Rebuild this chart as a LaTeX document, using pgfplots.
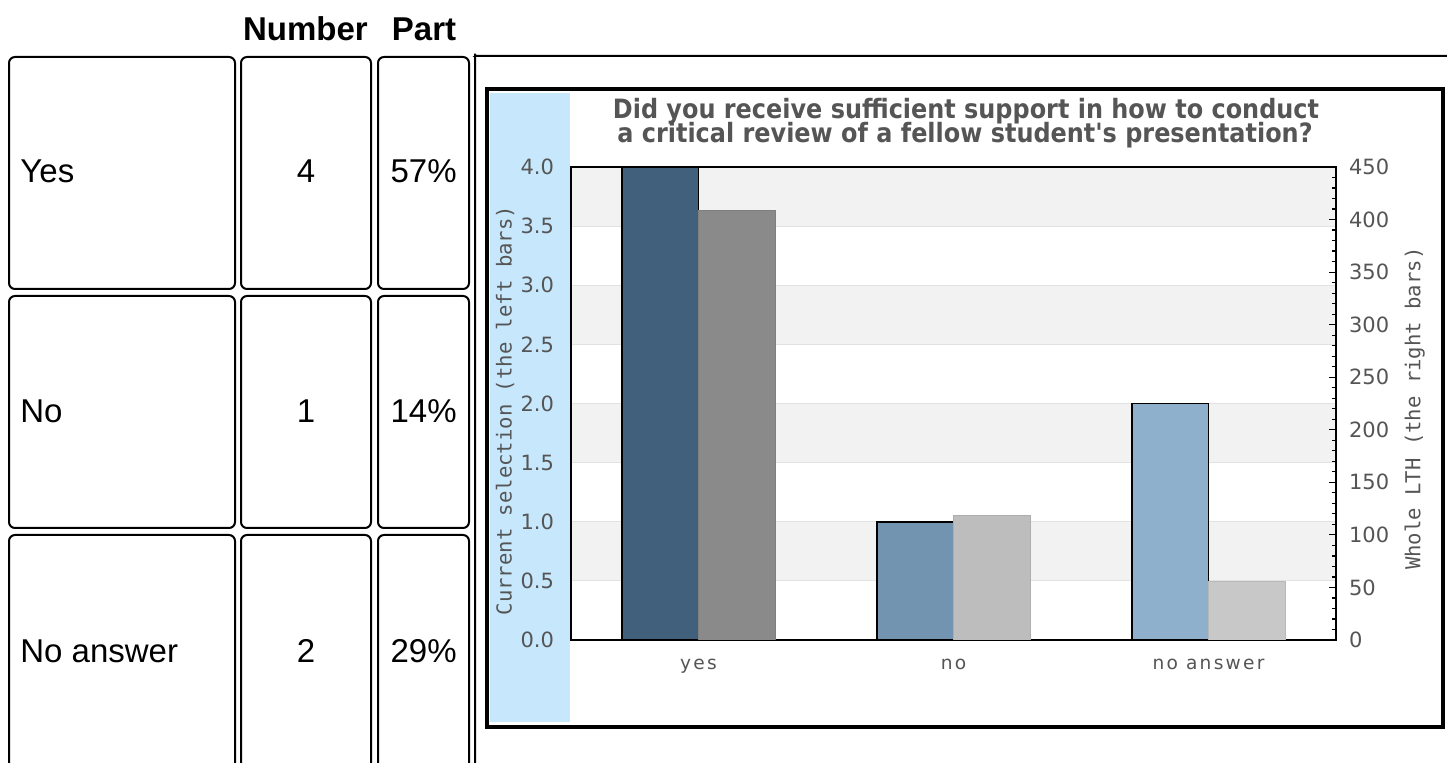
\documentclass[border=0pt]{standalone}
\usepackage{pgfplots}
\pgfplotsset{compat=1.18}
\usepackage{fontspec}
\setmainfont{Liberation Sans}
\newfontfamily\dvs{DejaVu Sans}
\newfontfamily\dvsw[LetterSpace=12]{DejaVu Sans}
\newfontfamily\dvm{DejaVu Sans Mono}
\newfontfamily\ttl[FakeStretch=0.9]{DejaVu Sans}

\definecolor{stripblue}{HTML}{C6E7FC}
\definecolor{band}{HTML}{F2F2F2}
\definecolor{gridc}{HTML}{E2E2E2}
\definecolor{txt}{HTML}{555555}
\definecolor{yesL}{HTML}{41607C}
\definecolor{noL}{HTML}{7294B0}
\definecolor{naL}{HTML}{8FB0CC}
\definecolor{yesR}{HTML}{8A8A8A}
\definecolor{noR}{HTML}{BDBDBD}
\definecolor{naR}{HTML}{C8C8C8}

\begin{document}
\begin{tikzpicture}
% page frame in pixel units of the reference (0.5pt each, y downwards)
\begin{scope}[x=0.5pt,y=-0.5pt]
\useasboundingbox (0,0) rectangle (1447,763);

% table on the left
\begin{scope}[line width=1pt, rounded corners=3pt]
\foreach \ya/\yb in {57/289, 296/528, 535/790}{
  \draw (9,\ya) rectangle (235,\yb);
  \draw (241,\ya) rectangle (371,\yb);
  \draw (378,\ya) rectangle (469,\yb);
}
\draw (1460,56) -- (481,56) arc (90:180:6) -- (475,790);
\end{scope}

\begin{scope}[font=\fontsize{16.5}{20}\selectfont, inner sep=0pt]
\node[anchor=base, font=\bfseries\fontsize{16.5}{20}\selectfont] at (305.5,41) {Number};
\node[anchor=base, font=\bfseries\fontsize{16.5}{20}\selectfont] at (424,41) {Part};
\node[anchor=base west] at (20,183) {Yes};
\node[anchor=base west] at (20,423) {No};
\node[anchor=base west] at (20,663) {No answer};
\node[anchor=base] at (306,183) {4};
\node[anchor=base] at (306,423) {1};
\node[anchor=base] at (306,663) {2};
\node[anchor=base east] at (457,183) {57\%};
\node[anchor=base east] at (457,423) {14\%};
\node[anchor=base east] at (457,663) {29\%};
\end{scope}

% chart frame
\fill[white] (487,89) rectangle (1443,727);
\fill[stripblue] (490,93) rectangle (570,722);
\draw[line width=2pt] (487,89) rectangle (1443,727);

% alternating background bands of the plot area (0.5 steps of the left scale)
\fill[band] (571,580.9) rectangle (1336,521.75);
\fill[band] (571,462.6) rectangle (1336,403.5);
\fill[band] (571,344.4) rectangle (1336,285.25);
\fill[band] (571,226.1) rectangle (1336,167);

\begin{scope}[text=txt, inner sep=0pt, font=\ttl\bfseries\fontsize{13.3}{12}\selectfont]
\node[anchor=base] at (966,119) {Did you receive sufficient support in how to conduct};
\node[anchor=base] at (965,143) {a critical review of a fellow student's presentation?};
\end{scope}
\end{scope}

\begin{axis}[
  at={(285.5pt,-320pt)}, anchor=south west, scale only axis,
  width=382.5pt, height=236.5pt,
  xmin=-0.5, xmax=2.5, ymin=0, ymax=4,
  xtick={0,1,2}, xticklabels={yes,no,no answer},
  ytick={0,0.5,...,4},
  major tick length=0pt,
  ymajorgrids, grid style={gridc, line width=0.6pt},
  axis line style={black, line width=0.8pt},
  /pgf/number format/assume math mode=true,
  yticklabel={\pgfmathprintnumber[fixed,fixed zerofill,precision=1]{\tick}},
  yticklabel style={font=\dvs\fontsize{10.5}{11}\selectfont, text=txt, xshift=-5pt},
  xticklabel style={font=\dvsw\fontsize{9.3}{10}\selectfont, text=txt, yshift=-6pt},
  ylabel={Current selection (the left bars)},
  every axis y label/.style={at={(axis description cs:-0.086,0.485)}, rotate=90, anchor=center,
    font=\dvm\fontsize{10.3}{12}\selectfont, text=txt},
  ybar, bar width=0.3,
]
\addplot[bar shift=-0.15, fill=yesL, draw=black, line width=0.9pt] coordinates {(0,4)};
\addplot[bar shift=-0.15, fill=noL, draw=black, line width=0.9pt] coordinates {(1,1)};
\addplot[bar shift=-0.15, fill=naL, draw=black, line width=0.9pt] coordinates {(2,2)};
\end{axis}

\begin{axis}[
  at={(285.5pt,-320pt)}, anchor=south west, scale only axis,
  width=382.5pt, height=236.5pt,
  xmin=-0.5, xmax=2.5, ymin=0, ymax=450,
  axis x line=none, axis y line*=right,
  ytick={0,50,...,450}, minor y tick num=4,
  tick align=inside, major tick length=3.3pt, minor tick length=2pt,
  tick style={black, line width=0.6pt},
  axis line style={black, line width=0.8pt},
  /pgf/number format/assume math mode=true,
  yticklabel style={font=\dvs\fontsize{10.5}{11}\selectfont, text=txt, xshift=3pt},
  ylabel={Whole LTH (the right bars)},
  every axis y label/.style={at={(axis description cs:1.103,0.489)}, rotate=90, anchor=center,
    font=\dvm\fontsize{10.3}{12}\selectfont, text=txt},
  ybar, bar width=0.3,
]
\addplot[bar shift=0.15, fill=yesR, draw=yesR!92!black, line width=0.4pt] coordinates {(0,409)};
\addplot[bar shift=0.15, fill=noR, draw=noR!92!black, line width=0.4pt] coordinates {(1,119)};
\addplot[bar shift=0.15, fill=naR, draw=naR!92!black, line width=0.4pt] coordinates {(2,56)};
\end{axis}
\end{tikzpicture}
\end{document}
